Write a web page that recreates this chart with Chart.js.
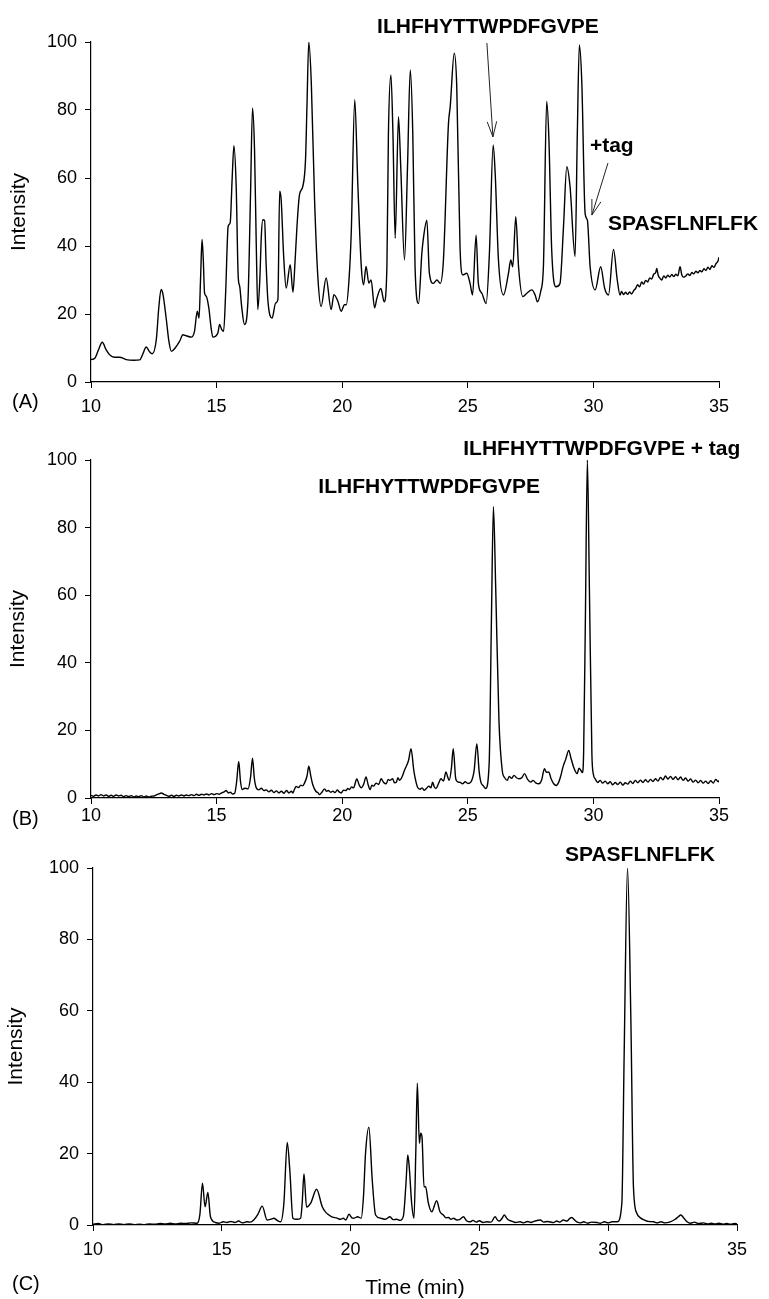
<!DOCTYPE html>
<html><head><meta charset="utf-8">
<script src="https://cdn.jsdelivr.net/npm/chart.js@4"></script>
<style>
html,body{margin:0;padding:0;background:#fff;overflow:hidden;width:769px;height:1299px;}
canvas{position:absolute;left:0;}
</style></head><body>
<canvas id="cA" width="769" height="420" style="top:0px;width:769px;height:420px"></canvas>
<canvas id="cB" width="769" height="420" style="top:420px;width:769px;height:420px"></canvas>
<canvas id="cC" width="769" height="459" style="top:840px;width:769px;height:459px"></canvas>
<script>
// ---- Data ----
const xTicks = [10, 15, 20, 25, 30, 35];
const yTicks = [0, 20, 40, 60, 80, 100];

const timeA = [10.00,10.15,10.30,10.45,10.60,10.74,10.94,11.14,11.40,11.70,11.94,12.05,12.20,12.32,12.44,12.60,12.70,12.79,12.86,13.00,13.10,13.20,13.35,13.53,13.66,13.79,13.99,14.12,14.23,14.30,14.36,14.42,14.47,14.52,14.59,14.69,14.78,14.85,15.05,15.12,15.20,15.28,15.36,15.46,15.54,15.62,15.69,15.78,15.86,15.92,16.00,16.11,16.25,16.35,16.43,16.51,16.58,16.64,16.72,16.78,16.84,16.91,16.97,17.04,17.21,17.35,17.44,17.51,17.57,17.67,17.77,17.93,18.04,18.12,18.20,18.30,18.43,18.54,18.60,18.67,18.77,18.90,19.03,19.16,19.36,19.56,19.67,19.83,19.96,20.09,20.16,20.27,20.36,20.50,20.62,20.76,20.85,20.95,21.06,21.15,21.29,21.38,21.54,21.67,21.78,21.84,21.94,22.02,22.11,22.24,22.33,22.48,22.60,22.71,22.81,22.90,23.04,23.17,23.24,23.37,23.47,23.63,23.77,23.90,24.03,24.23,24.30,24.46,24.56,24.69,24.80,24.96,25.09,25.19,25.33,25.42,25.56,25.73,25.86,26.01,26.09,26.22,26.42,26.62,26.71,26.79,26.91,27.02,27.19,27.35,27.55,27.68,27.77,27.90,28.01,28.14,28.23,28.34,28.51,28.67,28.81,28.94,29.07,29.27,29.36,29.44,29.54,29.67,29.76,29.87,30.07,30.29,30.45,30.60,30.80,30.95,31.06,
 31.12,31.2,31.28,31.36,31.44,31.52,31.6,31.68,31.76,31.84,
 31.92,32.0,32.08,32.16,32.24,32.32,32.4,32.48,32.52,32.58,
 32.66,32.72,32.8,32.88,32.96,33.04,33.12,33.2,33.28,33.36,
 33.45,33.52,33.6,33.68,33.76,33.84,33.92,34.0,34.08,34.16,
 34.24,34.32,34.4,34.48,34.56,34.64,34.72,34.8,34.88,34.96,35.0];
const intensityA = [6.6,7.0,9.5,11.7,9.5,8.0,7.3,7.3,6.6,6.4,6.5,8.0,10.3,9.0,8.3,12.5,22.0,27.2,26.0,18.3,12.0,9.0,10.0,12.0,13.9,13.6,13.2,14.9,20.8,18.8,30.0,41.9,36.0,26.2,25.2,21.8,16.0,13.2,14.4,16.9,15.5,14.9,26.2,45.8,46.8,60.0,69.5,57.5,31.0,28.1,22.0,16.9,24.2,55.0,80.6,68.3,40.0,21.3,30.0,42.8,47.7,47.5,35.0,24.2,18.8,23.2,24.2,56.1,53.6,37.0,27.6,34.5,26.4,35.0,45.8,55.1,57.5,65.4,82.0,100,88.0,53.6,31.0,22.2,30.6,21.3,25.7,23.7,20.8,22.7,22.7,30.0,43.8,83.0,58.5,34.0,28.6,34.0,29.1,30.0,21.8,24.6,27.5,23.6,33.9,73,90.3,73,42.3,78,63.3,35.9,63.3,91.8,73,33.9,23.1,37.8,42.7,47.6,32,29,30,29,35.9,76,81,96.7,86.9,39.8,31.5,32,29,25.6,43.2,29,26.1,23.1,37.8,69.7,61.4,35.9,25.6,32,35.9,33.9,48.6,33.9,25.1,26.1,27.1,25.6,23.6,26.6,33.9,82.5,71.2,38.8,28,29,45.7,63.3,57.5,36.9,73,99.1,87.8,49.6,47.6,33.9,27.1,33.9,27.5,25.6,39,30,25.6,
 26.6,25.7,26.4,25.8,26.5,25.9,26.8,27.5,28.6,28.0,
 29.4,28.8,29.9,29.4,30.6,30.3,31.7,32.2,33.4,31.4,
 30.4,30.0,31.2,30.6,31.4,30.9,31.6,31.0,31.7,31.2,
 33.9,31.5,30.8,31.2,31.8,31.3,32.2,31.8,32.6,32.1,
 32.8,32.4,33.3,32.8,33.8,33.1,34.2,33.7,34.8,35.6,36.7];

const timeB = [
 10.0,10.1,10.2,10.3,10.4,10.5,10.6,10.7,10.8,10.9,
 11.0,11.1,11.2,11.3,11.4,11.5,11.6,11.7,11.8,11.9,
 12.0,12.1,12.2,12.3,12.4,12.5,12.6,12.7,12.8,12.9,
 13.0,13.1,13.2,13.3,13.4,13.5,13.6,13.7,13.8,13.9,
 14.0,14.1,14.2,14.3,14.4,14.5,14.6,14.7,14.8,14.9,
 15.0,15.1,15.2,15.3,15.38,15.47,15.55,15.63,15.72,15.8,
 15.88,15.95,16.02,16.12,16.25,16.35,16.43,16.5,16.58,16.68,
 16.78,16.88,16.98,17.08,17.18,17.28,17.38,17.48,17.58,17.68,
 17.78,17.88,17.98,18.04,18.1,18.17,18.26,18.35,18.42,18.5,
 18.6,18.67,18.75,18.83,18.95,19.03,19.1,19.2,19.3,19.38,
 19.45,19.54,19.63,19.72,19.8,19.88,19.96,20.05,20.15,20.22,
 20.29,20.37,20.45,20.58,20.68,20.76,20.85,20.95,21.03,21.11,
 21.18,21.25,21.35,21.45,21.55,21.65,21.75,21.83,21.9,22.01,
 22.08,22.15,22.22,22.28,22.38,22.48,22.64,22.74,22.85,22.93,
 23.0,23.1,23.18,23.27,23.36,23.45,23.53,23.6,23.66,23.73,
 23.83,23.93,24.03,24.13,24.2,24.26,24.35,24.42,24.52,24.6,
 24.7,24.79,24.9,25.0,25.12,25.25,25.36,25.45,25.52,25.62,
 25.71,25.85,25.94,26.02,26.11,26.24,26.37,26.47,26.57,26.65,
 26.74,26.84,26.94,27.03,27.15,27.26,27.38,27.5,27.6,27.7,
 27.83,27.94,28.05,28.13,28.22,28.32,28.42,28.52,28.62,28.7,
 28.79,28.9,29.02,29.1,29.21,29.35,29.43,29.5,29.56,29.61,
 29.68,29.76,29.84,29.94,30.0,30.07,30.17,30.27,30.37,30.47,
 30.57,30.67,30.77,30.87,30.97,31.07,31.17,31.27,31.37,31.47,
 31.57,31.67,31.77,31.87,31.97,32.07,32.17,32.27,32.37,32.47,
 32.57,32.67,32.77,32.87,32.97,33.07,33.17,33.27,33.37,33.47,
 33.57,33.67,33.77,33.87,33.97,34.07,34.17,34.27,34.37,34.47,
 34.57,34.67,34.77,34.87,34.97,35.0];
const intensityB = [
 0.8,0.5,0.9,0.6,1.0,0.6,0.9,0.5,0.8,0.5,
 0.9,0.6,0.8,0.4,0.7,0.4,0.7,0.3,0.6,0.4,
 0.7,0.3,0.6,0.3,0.5,0.6,0.9,1.2,1.5,1.1,
 0.8,0.5,0.8,0.5,0.8,0.6,0.9,0.6,0.9,0.7,
 1.0,0.7,1.1,0.8,1.1,0.9,1.2,0.9,1.3,1.0,
 1.3,1.1,1.5,1.8,2.2,1.5,1.7,1.2,1.4,5,
 10.8,5,2.5,2.9,2.7,6,11.8,6,3,2.4,
 2.9,2.2,2.4,1.8,2.3,1.6,2.1,1.5,2.0,1.4,
 2.2,1.5,2.0,1.5,2.6,3.4,3.1,3.8,3.6,4.4,
 6.5,9.4,6.5,3.9,2,1.6,1,1.8,2.7,2.0,
 2.2,1.7,2,1.6,2.4,1.8,1.5,2.3,2.2,2.8,
 2.5,3.3,3,5.6,3.8,3,4.0,6.2,4.0,2.5,
 3.8,3.5,4.4,4.0,5.7,4.6,4.2,5.5,5.2,5.7,
 4.5,4.6,6.0,5.2,6.2,8.2,11.1,14.6,8.2,5.0,
 3.2,2.6,3.0,2.3,2.9,3.5,3.0,4.7,3.4,2.8,
 4.2,5.7,5.0,7.7,6.2,5.2,9,14.6,5.7,4.8,
 4.6,4.2,4.8,4.3,4.7,8,16.1,8,4.7,3.6,
 2.8,10.1,52.5,86.2,62.4,23,8.2,6.0,5.2,6.4,
 5.8,6.7,6.0,5.7,6.0,7.2,5.5,4.7,5.2,4.5,
 4.2,5.3,8.7,7.6,7.7,5.6,4.2,3.7,4.7,6.5,
 9.2,11.5,14.1,12.0,9.2,7.2,8.8,8.2,7.5,13.1,
 52.5,100,62.4,13.1,7.0,5.7,4.6,5.2,4.4,5.0,
 4.2,4.8,3.9,4.6,4.0,4.7,3.8,4.5,4.1,5.0,
 4.3,5.2,4.5,5.3,4.6,5.4,4.7,5.5,4.9,5.7,
 5.0,6.1,5.4,6.5,5.6,6.4,5.5,6.3,5.4,6.2,
 5.2,5.9,5.0,5.6,4.7,5.3,4.5,5.2,4.4,5.0,
 4.3,5.1,4.4,5.5,4.8,5.2];

const timeC = [
 10.0,10.2,10.4,10.6,10.8,11.0,11.2,11.4,11.6,11.8,
 12.0,12.2,12.4,12.6,12.8,13.0,13.2,13.4,13.6,13.8,
 14.04,14.15,14.25,14.35,14.46,14.56,14.75,14.9,15.05,15.2,
 15.35,15.5,15.65,15.8,15.98,16.1,16.24,16.4,16.57,16.76,
 16.9,17.02,17.15,17.28,17.41,17.54,17.64,17.76,17.9,18.06,
 18.12,18.19,18.29,18.45,18.68,18.9,19.03,19.16,19.3,19.45,
 19.61,19.72,19.81,19.94,20.05,20.13,20.27,20.41,20.5,20.58,
 20.71,20.84,20.97,21.17,21.35,21.53,21.65,21.79,21.92,22.05,
 22.15,22.22,22.28,22.37,22.46,22.53,22.59,22.67,22.72,22.77,
 22.85,22.91,23.02,23.15,23.34,23.47,23.6,23.7,23.8,23.9,
 24.0,24.12,24.25,24.38,24.5,24.64,24.75,24.88,25.0,25.14,
 25.28,25.45,25.61,25.7,25.78,25.88,25.97,26.05,26.13,26.25,
 26.4,26.58,26.72,26.86,27.0,27.15,27.36,27.5,27.65,27.88,
 28.0,28.12,28.26,28.4,28.5,28.59,28.68,28.78,28.92,29.05,
 29.2,29.35,29.56,29.7,29.85,30.0,30.15,30.35,30.53,30.62,
 30.75,30.88,30.98,31.11,31.25,31.4,31.55,31.76,31.9,32.05,
 32.2,32.41,32.6,32.72,32.82,32.94,33.06,33.2,33.35,33.5,
 33.7,33.85,34.0,34.15,34.3,34.45,34.6,34.75,34.9,35.0];
const intensityC = [
 0.2,0.4,0.1,0.3,0.1,0.3,0.1,0.3,0.1,0.2,
 0.1,0.3,0.2,0.4,0.3,0.5,0.3,0.5,0.4,0.6,
 0.5,3,11.7,5.1,9.1,2.3,0.7,0.5,0.9,0.7,
 1.0,0.7,1.1,0.6,0.9,0.8,1.4,3.0,5.3,1.4,
 1.6,1.9,1.3,0.9,6.1,23.1,15.4,1.9,1.6,1.9,
 6.1,14.3,5,6.1,10,5.1,3.6,2.8,2.2,2.0,
 1.6,1.9,1.4,3,2.0,1.9,2.3,1.9,8.0,20.1,
 27.4,12.6,2.8,1.9,1.6,2.3,1.5,1.6,1.3,2.5,
 11.7,19.6,15.9,6.1,1.9,20.1,39.7,22.9,25.7,24.8,
 10.7,10.7,6.1,3.7,6.8,3.7,2.8,2.0,2.1,1.6,
 1.9,1.4,1.6,2.3,1.2,0.9,1.3,0.8,1.2,0.7,
 0.9,0.8,2.3,1.4,1.1,1.9,2.8,2.0,1.4,1.1,
 0.7,0.9,0.6,1.0,0.7,1.1,1.4,0.8,1.0,0.7,
 1.1,0.8,1.4,1.1,1.8,2.1,1.5,0.9,0.6,0.9,
 0.5,0.8,0.7,0.5,0.9,0.6,0.9,0.9,6.1,48,
 100,57.5,10.7,3.3,2.0,1.4,1.0,0.9,0.6,0.9,
 0.6,0.9,1.6,2.3,2.8,1.9,0.9,0.5,0.8,0.4,
 0.6,0.3,0.5,0.3,0.5,0.2,0.4,0.2,0.4,0.3];

// ---- Drawing ----
const FONT = '"Liberation Sans", Arial, Helvetica, sans-serif';
Chart.defaults.font.family = FONT;
Chart.defaults.font.size = 18;
Chart.defaults.color = '#000';

const panelPlugin = {
  id: 'panelDecor',
  afterDraw(chart, args, opts) {
    const ctx = chart.ctx;
    const xs = chart.scales.x, ys = chart.scales.y;
    ctx.save();
    ctx.fillStyle = '#000';
    ctx.font = '20px ' + FONT;
    ctx.textAlign = 'left';
    ctx.textBaseline = 'middle';
    ctx.fillText(opts.label, opts.labelX, opts.labelY);
    ctx.font = 'bold 21px ' + FONT;
    ctx.textBaseline = 'alphabetic';
    (opts.texts || []).forEach(t => {
      ctx.fillText(t.text, xs.getPixelForValue(t.t), ys.getPixelForValue(t.v));
    });
    ctx.strokeStyle = '#222';
    ctx.lineWidth = 1;
    (opts.arrows || []).forEach(a => {
      const x1 = xs.getPixelForValue(a.from[0]), y1 = ys.getPixelForValue(a.from[1]);
      const x2 = xs.getPixelForValue(a.to[0]), y2 = ys.getPixelForValue(a.to[1]);
      const ang = Math.atan2(y2 - y1, x2 - x1);
      const L = 16, s = 0.3;
      ctx.beginPath();
      ctx.moveTo(x1, y1); ctx.lineTo(x2, y2);
      ctx.moveTo(x2 - L * Math.cos(ang - s), y2 - L * Math.sin(ang - s));
      ctx.lineTo(x2, y2);
      ctx.lineTo(x2 - L * Math.cos(ang + s), y2 - L * Math.sin(ang + s));
      ctx.stroke();
    });
    ctx.restore();
  }
};

function makeChart(id, times, values, cfg) {
  const pts = times.map((t, i) => ({x: t, y: values[i]}));
  return new Chart(document.getElementById(id), {
    type: 'line',
    data: { datasets: [{ data: pts, borderColor: '#000', borderWidth: 1.4, pointRadius: 0,
      cubicInterpolationMode: 'monotone', fill: false }] },
    options: {
      responsive: false, animation: false, events: [],
      layout: { padding: { top: cfg.padTop, right: cfg.padRight, left: 0, bottom: 0 } },
      plugins: { legend: { display: false }, tooltip: { enabled: false },
        panelDecor: { label: cfg.label, labelX: 12, labelY: cfg.labelY, texts: cfg.texts, arrows: cfg.arrows } },
      scales: {
        x: {
          type: 'linear', min: 10, max: 35,
          afterBuildTicks: s => { s.ticks = xTicks.map(v => ({value: v})); },
          afterFit: s => { s.height = cfg.xHeight; },
          ticks: { padding: cfg.xTickPad, font: { size: 18 }, color: '#000', maxRotation: 0 },
          grid: { drawOnChartArea: false, drawTicks: true, tickLength: 6, color: '#000', lineWidth: 1 },
          border: { display: true, color: '#000', width: 1.2 },
          title: cfg.xTitle ? { display: true, text: cfg.xTitle, color: '#000',
            font: { size: 21, lineHeight: 1 }, padding: { top: 0, bottom: cfg.xTitlePad } } : { display: false }
        },
        y: {
          type: 'linear', min: 0, max: 100,
          afterBuildTicks: s => { s.ticks = yTicks.map(v => ({value: v})); },
          afterFit: s => { s.width = cfg.yWidth; },
          ticks: { padding: 8, font: { size: 18 }, color: '#000' },
          grid: { drawOnChartArea: false, drawTicks: true, tickLength: 6, color: '#000', lineWidth: 1 },
          border: { display: true, color: '#000', width: 1.2 },
          title: { display: true, text: 'Intensity', color: '#000', font: { size: 21 },
            padding: { top: cfg.yTitlePad, bottom: 0 } }
        }
      }
    },
    plugins: [panelPlugin]
  });
}

makeChart('cA', timeA, intensityA, {
  padTop: 42, padRight: 50, yWidth: 91, xHeight: 38, xTickPad: 8, yTitlePad: 7,
  label: '(A)', labelY: 402,
  texts: [
    {text: 'ILHFHYTTWPDFGVPE', t: 21.39, v: 102.6},
    {text: '+tag', t: 29.86, v: 67.6},
    {text: 'SPASFLNFLFK', t: 30.58, v: 44.7}
  ],
  arrows: [
    {from: [25.76, 99.7], to: [26.0, 72.1]},
    {from: [30.58, 64.4], to: [29.94, 49.1]}
  ]
});

makeChart('cB', timeB, intensityB, {
  padTop: 40, padRight: 50, yWidth: 91, xHeight: 42, xTickPad: 1, yTitlePad: 5.5,
  label: '(B)', labelY: 399,
  texts: [
    {text: 'ILHFHYTTWPDFGVPE', t: 19.05, v: 90.2},
    {text: 'ILHFHYTTWPDFGVPE + tag', t: 24.82, v: 101.5}
  ],
  arrows: []
});

makeChart('cC', timeC, intensityC, {
  padTop: 28, padRight: 32, yWidth: 93, xHeight: 74, xTickPad: 8, yTitlePad: 4,
  xTitle: 'Time (min)', xTitlePad: 0,
  label: '(C)', labelY: 444,
  texts: [
    {text: 'SPASFLNFLFK', t: 28.32, v: 102}
  ],
  arrows: []
});
</script>
</body></html>
